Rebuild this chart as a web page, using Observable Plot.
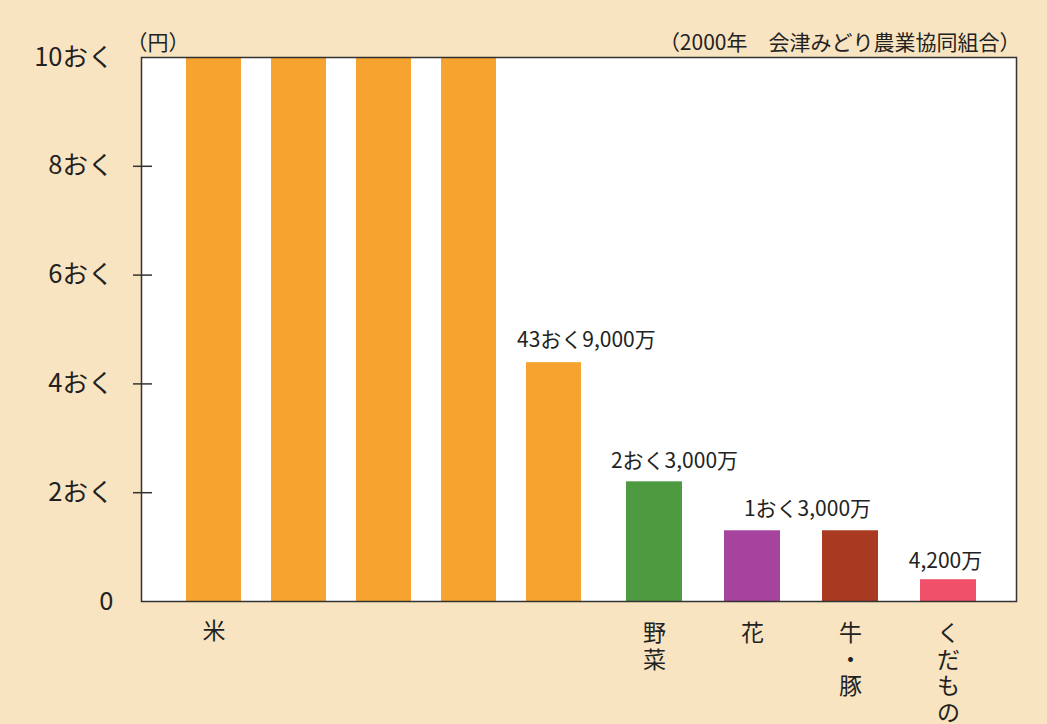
<!DOCTYPE html>
<html>
<head>
<meta charset="utf-8">
<script src="https://cdn.jsdelivr.net/npm/d3@7"></script>
<script src="https://cdn.jsdelivr.net/npm/@observablehq/plot@0.6"></script>
<style>
  html, body { margin: 0; padding: 0; background: #F8E4C1; }
  #wrap { position: relative; width: 1047px; height: 724px; overflow: hidden; }
  #wrap svg { position: absolute; left: 0; top: 0; overflow: visible; }
</style>
</head>
<body>
<div id="wrap"></div>
<script>
// ---- data (values in おく円 as drawn) ----
const riceSegments = [10, 10, 10, 10, 4.39];   // 米: drawn as four full bars + remainder
const riceName = "米";
const riceLabel = "43おく9,000万";
const otherCategories = ["野菜", "花", "牛・豚", "くだもの"];
const otherValues = [2.2, 1.3, 1.3, 0.4];
const otherLabels = ["2おく3,000万", "1おく3,000万", "", "4,200万"];
const yTicks = [0, 2, 4, 6, 8, 10];
const yTickLabels = ["0", "2おく", "4おく", "6おく", "8おく", "10おく"];
const unitLabel = "（円）";
const sourceNote = "（2000年　会津みどり農業協同組合）";

// ---- styling ----
const W = 1047, H = 724;
const M = {top: 57, right: 31, bottom: 123, left: 141};
const font = "'Noto Sans CJK JP', 'Noto Sans', sans-serif";
const riceColor = "#F7A330";
const otherColors = ["#4E9A40", "#A6439E", "#A83A22", "#F1506A"];
const ink = "#222";

const rice = riceSegments.map((v, i) => ({i, v}));
const others = otherCategories.map((c, i) => ({c, v: otherValues[i], label: otherLabels[i]}));

const common = {
  width: W, height: H,
  marginTop: M.top, marginRight: M.right, marginBottom: M.bottom, marginLeft: M.left,
  style: {background: "transparent", fontFamily: font, color: ink, overflow: "visible"}
};

// Base + rice plot
const p1 = Plot.plot({
  ...common,
  x: {type: "band", domain: rice.map(d => d.i), range: [141, 626], paddingInner: 0.35, paddingOuter: 0.5},
  y: {domain: [0, 10]},
  marks: [
    Plot.frame({fill: "white", stroke: null}),
    Plot.axisY({ticks: yTicks, tickSize: 0, tickPadding: 28, fontSize: 25.5, label: null,
      tickFormat: d => yTickLabels[yTicks.indexOf(d)], fill: ink}),
    Plot.tickY(yTicks.filter(t => t > 0 && t < 10), {y: d => d, stroke: "#333", strokeWidth: 1.5,
      insetLeft: -8, insetRight: (W - M.left - M.right) - 11}),
    Plot.barY(rice, {x: "i", y: "v", fill: riceColor}),
    Plot.axisX({tickSize: 0, tickPadding: 21, fontSize: 23, label: null, fill: ink,
      tickFormat: i => i === 0 ? riceName : ""}),
    Plot.text([rice[rice.length - 1]], {x: "i", y: "v", text: () => riceLabel, textAnchor: "start",
      dx: -37, dy: -22, fontSize: 21, fill: ink}),
    Plot.text([unitLabel], {text: d => d, frameAnchor: "top-left", textAnchor: "start",
      dx: -15, dy: -22, fontSize: 21, fill: ink}),
    Plot.text([sourceNote], {text: d => d, frameAnchor: "top-right", textAnchor: "end",
      dx: 4, dy: -22, fontSize: 21, fill: ink})
  ]
});

// Other products plot + frame outline on top
const p2 = Plot.plot({
  ...common,
  x: {type: "band", domain: otherCategories, range: [585.6, 1016], paddingInner: 0.43, paddingOuter: 0.4},
  y: {domain: [0, 10], axis: null},
  color: {domain: otherCategories, range: otherColors},
  marks: [
    Plot.barY(others, {x: "c", y: "v", fill: "c"}),
    Plot.axisX({tickSize: 0, tickPadding: 21, fontSize: 23, lineHeight: 1.15, label: null, fill: ink,
      tickFormat: d => Array.from(d).join("\n")}),
    Plot.text([others[0]], {x: "c", y: "v", text: "label", dx: 20, dy: -21, fontSize: 21, fill: ink}),
    Plot.text([others[1]], {x: "c", y: "v", text: "label", dx: 55, dy: -22, fontSize: 21, fill: ink}),
    Plot.text([others[3]], {x: "c", y: "v", text: "label", dx: -3, dy: -18, fontSize: 21, fill: ink}),
    Plot.frame({stroke: "#333", strokeWidth: 1.5})
  ]
});

const wrap = document.getElementById("wrap");
wrap.appendChild(p1);
wrap.appendChild(p2);
</script>
</body>
</html>
